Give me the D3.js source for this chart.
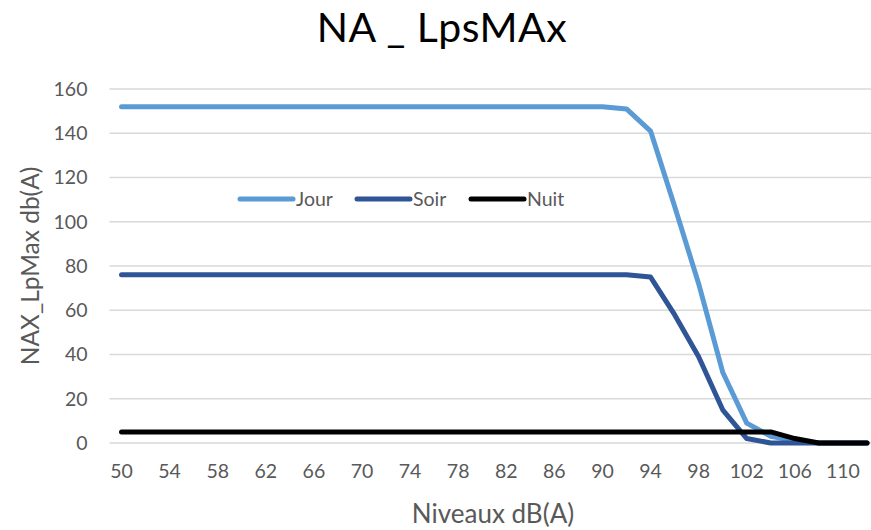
<!DOCTYPE html>
<html>
<head>
<meta charset="utf-8">
<script src="https://cdn.jsdelivr.net/npm/d3@7/dist/d3.min.js"></script>
<style>
  html, body { margin: 0; padding: 0; background: #fff; }
  svg { display: block; font-family: Lato, "Open Sans", sans-serif; }
</style>
</head>
<body>
<div id="chart"></div>
<script>
// Noise level categories, dB(A)
const levels = [50,52,54,56,58,60,62,64,66,68,70,72,74,76,78,80,82,84,86,88,90,92,94,96,98,100,102,104,106,108,110,112];

// NAX_LpMax counts per period
const jour = [152,152,152,152,152,152,152,152,152,152,152,152,152,152,152,152,152,152,152,152,152,151,141,107,72,32,9,3,1,0,0,0];
const soir = [76,76,76,76,76,76,76,76,76,76,76,76,76,76,76,76,76,76,76,76,76,76,75,58,39,15,2,0,0,0,0,0];
const nuit = [5,5,5,5,5,5,5,5,5,5,5,5,5,5,5,5,5,5,5,5,5,5,5,5,5,5,5,5,2,0,0,0];

const yTicks = [0,20,40,60,80,100,120,140,160];
const xTickLabels = levels.filter((d, i) => i % 2 === 0 && d <= 110);

const seriesList = [
  { name: "Jour", values: jour, color: "#5B9BD5" },
  { name: "Soir", values: soir, color: "#2F5597" },
  { name: "Nuit", values: nuit, color: "#000000" }
];

const W = 871, H = 530;
const plot = { left: 109.5, right: 879, top: 89, bottom: 443 };

const svg = d3.select("#chart").append("svg")
  .attr("width", W).attr("height", H);

const x = d3.scaleBand()
  .domain(levels)
  .range([plot.left, plot.right])
  .padding(0);

const y = d3.scaleLinear()
  .domain([0, 160])
  .range([plot.bottom, plot.top]);

const cx = d => x(d) + x.bandwidth() / 2;

// Horizontal gridlines
svg.append("g")
  .selectAll("line")
  .data(yTicks)
  .join("line")
  .attr("x1", plot.left)
  .attr("x2", plot.right)
  .attr("y1", d => y(d))
  .attr("y2", d => y(d))
  .attr("stroke", "#D9D9D9")
  .attr("stroke-width", 1.3);

// Y axis labels
const yAxis = d3.axisLeft(y).tickValues(yTicks).tickSize(0).tickPadding(22);
const gy = svg.append("g")
  .attr("transform", `translate(${plot.left},0)`)
  .call(yAxis);
gy.select(".domain").remove();
gy.selectAll("text")
  .attr("fill", "#595959")
  .style("font-size", "19.5px")
  .style("font-family", "Lato, sans-serif");

// X axis labels
const xAxis = d3.axisBottom(x).tickValues(xTickLabels).tickSize(0).tickPadding(21);
const gx = svg.append("g")
  .attr("transform", `translate(0,${plot.bottom})`)
  .call(xAxis);
gx.select(".domain").remove();
gx.selectAll("text")
  .attr("fill", "#595959")
  .style("font-size", "19.5px")
  .style("font-family", "Lato, sans-serif");

// Series lines
const line = d3.line()
  .x((d, i) => cx(levels[i]))
  .y(d => y(d));

svg.append("g")
  .selectAll("path")
  .data(seriesList)
  .join("path")
  .attr("d", s => line(s.values))
  .attr("fill", "none")
  .attr("stroke", s => s.color)
  .attr("stroke-width", 5)
  .attr("stroke-linejoin", "round")
  .attr("stroke-linecap", "round");

// Legend
const legendX = [240, 357, 471];
const leg = svg.append("g")
  .selectAll("g")
  .data(seriesList)
  .join("g")
  .attr("transform", (d, i) => `translate(${legendX[i]},199)`);
leg.append("line")
  .attr("x1", 0).attr("x2", 53)
  .attr("y1", 0).attr("y2", 0)
  .attr("stroke", d => d.color)
  .attr("stroke-width", 5)
  .attr("stroke-linecap", "round");
leg.append("text")
  .attr("x", 56)
  .attr("y", 7)
  .attr("fill", "#595959")
  .style("font-size", "19.5px")
  .text(d => d.name);

// Title
svg.append("text")
  .attr("x", 442)
  .attr("y", 42)
  .attr("text-anchor", "middle")
  .attr("fill", "#000")
  .style("font-size", "41px")
  .style("letter-spacing", "0.5px")
  .text("NA _ LpsMAx");

// Axis titles
svg.append("text")
  .attr("x", 493)
  .attr("y", 523)
  .attr("text-anchor", "middle")
  .attr("fill", "#595959")
  .style("font-size", "26px")
  .text("Niveaux dB(A)");

svg.append("text")
  .attr("transform", "translate(39,266) rotate(-90)")
  .attr("text-anchor", "middle")
  .attr("fill", "#595959")
  .style("font-size", "24.5px")
  .text("NAX_LpMax db(A)");
</script>
</body>
</html>
